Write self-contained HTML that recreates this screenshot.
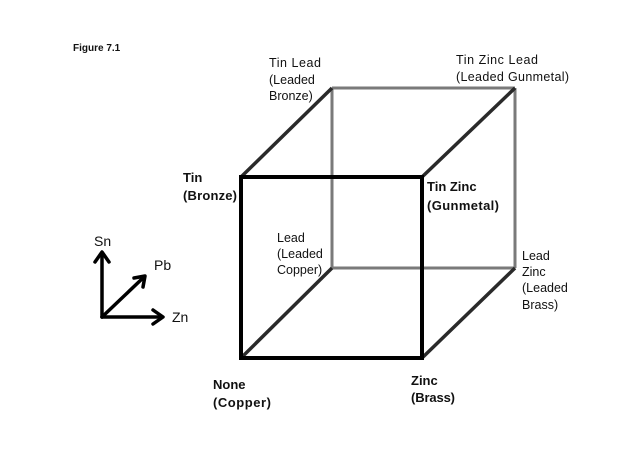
<!DOCTYPE html>
<html><head><style>
body{margin:0;background:#fff;}
svg text{font-family:"Liberation Sans",sans-serif;fill:#111;}
</style></head><body>
<svg width="640" height="452" viewBox="0 0 640 452" xmlns="http://www.w3.org/2000/svg">
<rect width="640" height="452" fill="#fff"/>
<text x="73" y="51" font-size="10" font-weight="bold">Figure 7.1</text>
<g stroke="#7a7a7a" stroke-width="3" fill="none">
<line x1="332" y1="88" x2="515" y2="88"/>
<line x1="332" y1="88" x2="332" y2="268"/>
<line x1="332" y1="268" x2="515" y2="268"/>
<line x1="515" y1="88" x2="515" y2="268"/>
</g>
<g stroke="#2a2a2a" stroke-width="3.5">
<line x1="241" y1="177" x2="332" y2="88"/>
<line x1="422" y1="177" x2="515" y2="88"/>
<line x1="241" y1="358" x2="332" y2="268"/>
<line x1="422" y1="358" x2="515" y2="268"/>
</g>
<rect x="241" y="177" width="181" height="181" fill="none" stroke="#000" stroke-width="4"/>
<g stroke="#000" stroke-width="3.5" fill="none" stroke-linecap="round" stroke-linejoin="round">
<line x1="102" y1="317" x2="102" y2="253"/>
<polyline points="95,262 102,252 109,262"/>
<line x1="102" y1="317" x2="162" y2="317"/>
<polyline points="153,310 163,317 153,324"/>
<line x1="102" y1="317" x2="144" y2="277"/>
<polyline points="134,278 145,276 143,287"/>
</g>
<g font-size="14">
<text x="94" y="246">Sn</text>
<text x="154" y="270">Pb</text>
<text x="172" y="322">Zn</text>
</g>
<g font-size="12.5">
<text x="269" y="67" textLength="52">Tin Lead</text>
<text x="269" y="84">(Leaded</text>
<text x="269" y="100">Bronze)</text>
<text x="456" y="64" textLength="82">Tin Zinc Lead</text>
<text x="456" y="81" textLength="113">(Leaded Gunmetal)</text>
<text x="277" y="242">Lead</text>
<text x="277" y="258">(Leaded</text>
<text x="277" y="274">Copper)</text>
<text x="522" y="260">Lead</text>
<text x="522" y="276">Zinc</text>
<text x="522" y="292">(Leaded</text>
<text x="522" y="309">Brass)</text>
</g>
<g font-size="13" font-weight="bold">
<text x="183" y="182">Tin</text>
<text x="183" y="200" textLength="54">(Bronze)</text>
<text x="427" y="191">Tin Zinc</text>
<text x="427" y="210" textLength="72">(Gunmetal)</text>
<text x="213" y="389">None</text>
<text x="213" y="407" textLength="58">(Copper)</text>
<text x="411" y="385">Zinc</text>
<text x="411" y="402" textLength="44">(Brass)</text>
</g>
</svg>
</body></html>
